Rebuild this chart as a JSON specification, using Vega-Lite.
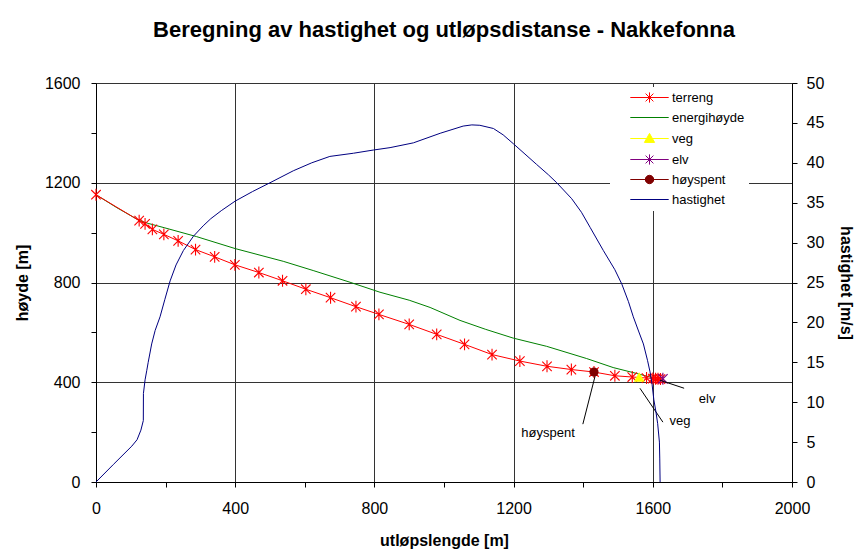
{
  "$schema": "https://vega.github.io/schema/vega-lite/v6.json",
  "width": 696,
  "height": 399,
  "autosize": {"type": "none"},
  "padding": {"left": 96, "top": 83, "right": 67, "bottom": 70},
  "background": "white",
  "title": {"text": "Beregning av hastighet og utløpsdistanse - Nakkefonna", "font": "Liberation Sans", "fontSize": 22, "fontWeight": "bold", "color": "black", "anchor": "middle", "offset": 33},
  "config": {
    "view": {"stroke": null},
    "font": "Liberation Sans",
    "axis": {"domainColor": "black", "tickColor": "black", "labelColor": "black", "titleColor": "black", "labelFont": "Liberation Sans", "labelFontSize": 16, "titleFont": "Liberation Sans", "titleFontSize": 16, "titleFontWeight": "bold", "tickSize": 5, "gridColor": "#333333", "gridWidth": 1, "labelOverlap": false, "labelFlush": false}
  },
  "datasets": {
    "terrain": [
      {"x": 0, "h": 1152}, {"x": 124, "h": 1048}, {"x": 141, "h": 1035}, {"x": 162, "h": 1013}, {"x": 195, "h": 993},
      {"x": 236, "h": 967}, {"x": 286, "h": 932}, {"x": 341, "h": 903}, {"x": 399, "h": 871}, {"x": 468, "h": 840},
      {"x": 536, "h": 807}, {"x": 603, "h": 773}, {"x": 674, "h": 739}, {"x": 747, "h": 703}, {"x": 813, "h": 672},
      {"x": 900, "h": 632}, {"x": 979, "h": 592}, {"x": 1059, "h": 552}, {"x": 1138, "h": 511}, {"x": 1218, "h": 485},
      {"x": 1296, "h": 464}, {"x": 1366, "h": 451}, {"x": 1431, "h": 441}, {"x": 1491, "h": 426}, {"x": 1541, "h": 421},
      {"x": 1582, "h": 417}, {"x": 1600, "h": 415}, {"x": 1608, "h": 414}, {"x": 1615, "h": 414}, {"x": 1622, "h": 413}
    ],
    "energy": [
      {"x": 0, "h": 1152}, {"x": 60, "h": 1100}, {"x": 124, "h": 1049}, {"x": 150, "h": 1037}, {"x": 198, "h": 1019},
      {"x": 289, "h": 984}, {"x": 400, "h": 936}, {"x": 538, "h": 885}, {"x": 624, "h": 848}, {"x": 730, "h": 801},
      {"x": 816, "h": 761}, {"x": 900, "h": 729}, {"x": 960, "h": 700}, {"x": 1046, "h": 648}, {"x": 1120, "h": 612}, {"x": 1199, "h": 577},
      {"x": 1295, "h": 544}, {"x": 1410, "h": 495}, {"x": 1486, "h": 459}, {"x": 1554, "h": 435}, {"x": 1592, "h": 421},
      {"x": 1600, "h": 418}
    ],
    "velocity": [
      {"x": 0, "v": 0}, {"x": 50, "v": 2.2}, {"x": 103, "v": 4.5}, {"x": 118, "v": 5.3}, {"x": 129, "v": 6.5},
      {"x": 136, "v": 7.7}, {"x": 136.3, "v": 11.1}, {"x": 141, "v": 12.8}, {"x": 146, "v": 14}, {"x": 150, "v": 15},
      {"x": 160, "v": 17.3}, {"x": 170, "v": 19}, {"x": 184, "v": 20.7}, {"x": 198, "v": 22.9}, {"x": 213, "v": 25.2},
      {"x": 230, "v": 27.2}, {"x": 251, "v": 29}, {"x": 280, "v": 30.8}, {"x": 308, "v": 32.1}, {"x": 330, "v": 33},
      {"x": 360, "v": 34}, {"x": 400, "v": 35.2}, {"x": 450, "v": 36.4}, {"x": 500, "v": 37.5}, {"x": 567, "v": 39},
      {"x": 620, "v": 40}, {"x": 672, "v": 40.8}, {"x": 740, "v": 41.2}, {"x": 797, "v": 41.6}, {"x": 845, "v": 41.9},
      {"x": 912, "v": 42.5}, {"x": 989, "v": 43.7}, {"x": 1055, "v": 44.6}, {"x": 1080, "v": 44.75}, {"x": 1103, "v": 44.7},
      {"x": 1142, "v": 44.3}, {"x": 1170, "v": 43.5}, {"x": 1199, "v": 42.4}, {"x": 1230, "v": 41.2}, {"x": 1266, "v": 39.8},
      {"x": 1300, "v": 38.5}, {"x": 1324, "v": 37.5}, {"x": 1367, "v": 35.5}, {"x": 1395, "v": 33.8}, {"x": 1420, "v": 31.9},
      {"x": 1458, "v": 29}, {"x": 1491, "v": 26.6}, {"x": 1511, "v": 24.8}, {"x": 1530, "v": 22.6}, {"x": 1544, "v": 20.7},
      {"x": 1560, "v": 18.8}, {"x": 1573, "v": 17.3}, {"x": 1585, "v": 15.2}, {"x": 1592, "v": 13.8}, {"x": 1598, "v": 12.2},
      {"x": 1603, "v": 10.3}, {"x": 1609, "v": 8.8}, {"x": 1614, "v": 7.3}, {"x": 1619, "v": 5}, {"x": 1620, "v": 3},
      {"x": 1621, "v": 0}
    ],
    "series": [
      {"series": "terreng"}, {"series": "energihøyde"}, {"series": "veg"}, {"series": "elv"}, {"series": "høyspent"}, {"series": "hastighet"}
    ],
    "specials": [
      {"series": "veg", "x": 1561, "h": 421},
      {"series": "elv", "x": 1629, "h": 414},
      {"series": "høyspent", "x": 1431, "h": 441}
    ],
    "notes": [
      {"label": "høyspent", "x": 1434, "h": 424, "x2": 1399, "h2": 232, "tx": 1299, "th": 196},
      {"label": "veg", "x": 1563, "h": 376, "x2": 1629, "h2": 240, "tx": 1678, "th": 244},
      {"label": "elv", "x": 1621, "h": 408, "x2": 1690, "h2": 376, "tx": 1756, "th": 332}
    ]
  },
  "encoding": {
    "x": {"field": "x", "type": "quantitative", "scale": {"domain": [0, 2000], "nice": false},
      "axis": {"title": "utløpslengde [m]", "values": [0, 200, 400, 600, 800, 1000, 1200, 1400, 1600, 1800, 2000], "format": "d",
        "labelExpr": "datum.value % 400 === 0 ? datum.label : ''", "grid": true,
        "gridOpacity": {"condition": {"test": "datum.value % 400 === 0", "value": 1}, "value": 0},
        "labelPadding": 13, "titlePadding": 16}}
  },
  "layer": [
    {
      "encoding": {
        "y": {"field": "h", "type": "quantitative", "scale": {"domain": [0, 1600], "nice": false},
          "axis": {"title": "høyde [m]", "orient": "left", "values": [0, 200, 400, 600, 800, 1000, 1200, 1400, 1600], "format": "d",
            "labelExpr": "datum.value % 400 === 0 ? datum.label : ''", "grid": true,
            "gridOpacity": {"condition": {"test": "datum.value % 400 === 0", "value": 1}, "value": 0},
            "labelPadding": 11, "titlePadding": 14}}
      },
      "layer": [
        {
          "data": {"name": "energy"},
          "mark": {"type": "line", "color": "#008000", "strokeWidth": 1}
        },
        {
          "data": {"name": "terrain"},
          "mark": {"type": "line", "color": "#FF0000", "strokeWidth": 1}
        },
        {
          "data": {"name": "terrain"},
          "mark": {"type": "point", "shape": "M0,-1V1M-0.8,-0.8L0.8,0.8M-0.8,0.8L0.8,-0.8", "size": 140, "filled": false, "color": "#FF0000", "strokeWidth": 1.1, "opacity": 1}
        },
        {
          "data": {"name": "series"},
          "transform": [{"filter": "datum.series === 'ingen'"}],
          "mark": {"type": "point", "opacity": 1, "strokeWidth": 1},
          "encoding": {
            "shape": {"field": "series", "type": "nominal",
              "scale": {"domain": ["terreng", "energihøyde", "veg", "elv", "høyspent", "hastighet"],
                "range": ["M-3.2,0H3.2M0,-0.85V0.85M-0.65,-0.65L0.65,0.65M-0.65,0.65L0.65,-0.65", "M-3.2,0H3.2", "M-3.2,0H3.2M0,-0.85L0.85,0.65H-0.85Z", "M-3.2,0H3.2M0,-0.85V0.85M-0.65,-0.65L0.65,0.65M-0.65,0.65L0.65,-0.65", "M-3.2,0H3.2M-0.7,0A0.7,0.7 0 1,0 0.7,0A0.7,0.7 0 1,0 -0.7,0Z", "M-3.2,0H3.2"]},
              "legend": {
                "orient": "none", "legendX": 514, "legendY": 4, "title": null, "fillColor": "white", "padding": 4,
                "rowPadding": 6, "labelFont": "Liberation Sans", "labelFontSize": 13, "labelColor": "black", "labelLimit": 200,
                "symbolSize": 144, "symbolOffset": 29, "labelOffset": 16, "symbolStrokeWidth": 1, "symbolOpacity": 1
              }},
            "stroke": {"field": "series", "type": "nominal",
              "scale": {"domain": ["terreng", "energihøyde", "veg", "elv", "høyspent", "hastighet"], "range": ["#FF0000", "#008000", "#FFFF00", "#800080", "#800000", "#000080"]},
              "legend": {
                "orient": "none", "legendX": 514, "legendY": 4, "title": null, "fillColor": "white", "padding": 4,
                "rowPadding": 6, "labelFont": "Liberation Sans", "labelFontSize": 13, "labelColor": "black", "labelLimit": 200,
                "symbolSize": 144, "symbolOffset": 29, "labelOffset": 16, "symbolStrokeWidth": 1, "symbolOpacity": 1
              }},
            "fill": {"field": "series", "type": "nominal",
              "scale": {"domain": ["terreng", "energihøyde", "veg", "elv", "høyspent", "hastighet"], "range": ["transparent", "transparent", "#FFFF00", "transparent", "#800000", "transparent"]},
              "legend": {
                "orient": "none", "legendX": 514, "legendY": 4, "title": null, "fillColor": "white", "padding": 4,
                "rowPadding": 6, "labelFont": "Liberation Sans", "labelFontSize": 13, "labelColor": "black", "labelLimit": 200,
                "symbolSize": 144, "symbolOffset": 29, "labelOffset": 16, "symbolStrokeWidth": 1, "symbolOpacity": 1
              }}
          }
        },
        {
          "data": {"name": "specials"},
          "transform": [{"filter": "datum.series === 'høyspent'"}],
          "mark": {"type": "point", "shape": "circle", "size": 85, "filled": true, "color": "#800000", "opacity": 1}
        },
        {
          "data": {"name": "specials"},
          "transform": [{"filter": "datum.series === 'veg'"}],
          "mark": {"type": "point", "shape": "triangle-up", "size": 120, "filled": true, "color": "#FFFF00", "opacity": 1}
        },
        {
          "data": {"name": "specials"},
          "transform": [{"filter": "datum.series === 'elv'"}],
          "mark": {"type": "point", "shape": "M0,-1V1M-0.8,-0.8L0.8,0.8M-0.8,0.8L0.8,-0.8", "size": 140, "filled": false, "color": "#800080", "strokeWidth": 1.1, "opacity": 1}
        },
        {
          "data": {"name": "notes"},
          "mark": {"type": "rule", "color": "black", "strokeWidth": 1},
          "encoding": {
            "x2": {"field": "x2"},
            "y2": {"field": "h2"}
          }
        },
        {
          "data": {"name": "notes"},
          "mark": {"type": "text", "font": "Liberation Sans", "fontSize": 13, "color": "black", "align": "center", "baseline": "middle"},
          "encoding": {
            "x": {"field": "tx", "type": "quantitative"},
            "y": {"field": "th", "type": "quantitative"},
            "text": {"field": "label"}
          }
        }
      ]
    },
    {
      "data": {"name": "velocity"},
      "mark": {"type": "line", "color": "#000080", "strokeWidth": 1},
      "encoding": {
        "y": {"field": "v", "type": "quantitative", "scale": {"domain": [0, 50], "nice": false},
          "axis": {"title": "hastighet [m/s]", "orient": "right", "values": [0, 5, 10, 15, 20, 25, 30, 35, 40, 45, 50], "grid": false,
            "labelPadding": 9, "titlePadding": 14}}
      }
    }
  ],
  "resolve": {"scale": {"y": "independent"}}
}
